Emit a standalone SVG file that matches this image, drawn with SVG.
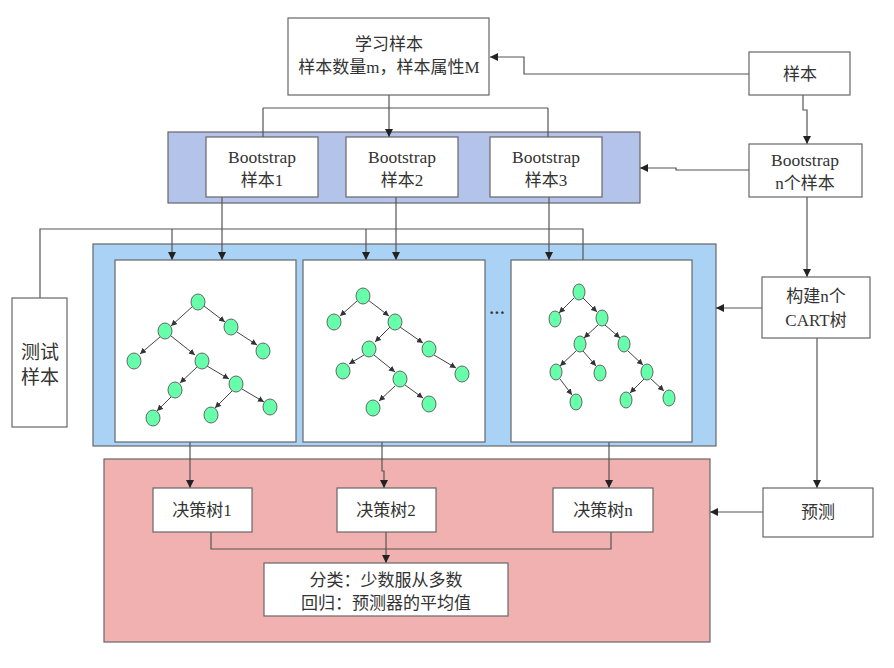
<svg xmlns="http://www.w3.org/2000/svg" width="894" height="668" viewBox="0 0 894 668">
<defs>
<marker id="ar" viewBox="0 0 10 10" refX="10" refY="5" markerWidth="8" markerHeight="8" markerUnits="userSpaceOnUse" orient="auto"><path d="M0,0L10,5L0,10z" fill="#222"/></marker>
<marker id="sa" viewBox="0 0 10 10" refX="10" refY="5" markerWidth="6" markerHeight="6" markerUnits="userSpaceOnUse" orient="auto"><path d="M0,0L10,5L0,10z" fill="#333"/></marker>
<style>
.box{fill:#fff;stroke:#666;stroke-width:1.2}
.t{font-family:"Liberation Serif","Noto Sans CJK SC",serif;font-size:16px;fill:#333;text-anchor:middle}
.b{font-size:17.5px}
.c{fill:none;stroke:#555;stroke-width:1.2}
.ca{fill:none;stroke:#555;stroke-width:1.2;marker-end:url(#ar)}
.n{fill:#66ffaa;stroke:#666;stroke-width:1}
.e{stroke:#444;stroke-width:1;marker-end:url(#sa)}
</style>
</defs>
<rect width="894" height="668" fill="#fff"/>
<g id="bands">
<rect x="168" y="132" width="472" height="71" fill="#b4c3ea" stroke="#666" stroke-width="1.2"/>
<rect x="93" y="244" width="623" height="202" fill="#aad2f5" stroke="#666" stroke-width="1.2"/>
<rect x="104" y="459" width="606" height="183" fill="#f2b1b1" stroke="#666" stroke-width="1.2"/>
</g>
<g id="connectors">
<path class="c" d="M389,95V108M263,108H548M263,108V137M548,108V137"/>
<path class="ca" d="M389,108V137"/>
<path class="ca" d="M749,74H524V57H490"/>
<path class="ca" d="M803,95V110H807V144"/>
<path class="ca" d="M749,170H676V168H640"/>
<path class="ca" d="M222,197V260"/>
<path class="ca" d="M396,197V260"/>
<path class="ca" d="M549,197V260"/>
<path class="c" d="M40,298V229H583V260"/>
<path class="ca" d="M172,229V260"/>
<path class="ca" d="M366,229V260"/>
<path class="ca" d="M807,197V277"/>
<path class="ca" d="M762,308H716"/>
<path class="ca" d="M817,338V488"/>
<path class="ca" d="M763,512H710"/>
<path class="ca" d="M190,442V488"/>
<path class="ca" d="M382,442V471H384V488"/>
<path class="ca" d="M609,442V488"/>
<path class="c" d="M211,532V549H611V532"/>
<path class="ca" d="M386,532V563"/>
</g>
<g id="n-learn"><rect class="box" x="288" y="18" width="201" height="77"/><text class="t" x="389" y="50" style="font-size:17px">学习样本</text><text class="t" x="389" y="73" style="font-size:17px">样本数量m，样本属性M</text></g>
<g id="n-sample"><rect class="box" x="749" y="52" width="101" height="43"/><text class="t" x="800" y="80" style="font-size:17px">样本</text></g>
<g id="n-bsn"><rect class="box" x="749" y="144" width="113" height="53"/><text class="t b" x="805" y="166">Bootstrap</text><text class="t" x="805" y="189" style="font-size:17px">n个样本</text></g>
<g id="n-bs1"><rect class="box" x="206" y="137" width="112" height="60"/><text class="t b" x="262" y="163">Bootstrap</text><text class="t" x="262" y="186" style="font-size:17px">样本1</text></g>
<g id="n-bs2"><rect class="box" x="346" y="137" width="112" height="60"/><text class="t b" x="402" y="163">Bootstrap</text><text class="t" x="402" y="186" style="font-size:17px">样本2</text></g>
<g id="n-bs3"><rect class="box" x="490" y="137" width="112" height="60"/><text class="t b" x="546" y="163">Bootstrap</text><text class="t" x="546" y="186" style="font-size:17px">样本3</text></g>
<g id="n-test"><rect class="box" x="12" y="298" width="55" height="129"/><text class="t" x="40" y="359" style="font-size:19px">测试</text><text class="t" x="40" y="384" style="font-size:19px">样本</text></g>
<g id="n-cart"><rect class="box" x="762" y="277" width="108" height="61"/><text class="t" x="816" y="302" style="font-size:17px">构建n个</text><text class="t" x="816" y="326" style="font-size:17px">CART树</text></g>
<g id="n-pred"><rect class="box" x="763" y="488" width="110" height="49"/><text class="t" x="818" y="518" style="font-size:17px">预测</text></g>
<g id="n-tree1">
<rect class="box" x="115" y="260" width="181" height="182"/>
<line class="e" x1="193" y1="306" x2="171" y2="326"/>
<line class="e" x1="204" y1="306" x2="225" y2="322"/>
<line class="e" x1="237" y1="332" x2="257" y2="345"/>
<line class="e" x1="160" y1="337" x2="140" y2="354"/>
<line class="e" x1="171" y1="336" x2="195" y2="355"/>
<line class="e" x1="197" y1="367" x2="180" y2="383"/>
<line class="e" x1="207" y1="366" x2="229" y2="379"/>
<line class="e" x1="171" y1="397" x2="157" y2="411"/>
<line class="e" x1="232" y1="391" x2="215" y2="408"/>
<line class="e" x1="242" y1="389" x2="264" y2="402"/>
<ellipse class="n" cx="198" cy="302" rx="7" ry="8"/>
<ellipse class="n" cx="165" cy="331" rx="7" ry="8"/>
<ellipse class="n" cx="231" cy="327" rx="7" ry="8"/>
<ellipse class="n" cx="263" cy="351" rx="7" ry="8"/>
<ellipse class="n" cx="134" cy="361" rx="7" ry="8"/>
<ellipse class="n" cx="202" cy="361" rx="7" ry="8"/>
<ellipse class="n" cx="175" cy="390" rx="7" ry="8"/>
<ellipse class="n" cx="236" cy="384" rx="7" ry="8"/>
<ellipse class="n" cx="153" cy="418" rx="7" ry="8"/>
<ellipse class="n" cx="211" cy="415" rx="7" ry="8"/>
<ellipse class="n" cx="270" cy="407" rx="7" ry="8"/>
</g>
<g id="n-tree2">
<rect class="box" x="303" y="260" width="182" height="182"/>
<line class="e" x1="357" y1="301" x2="340" y2="316"/>
<line class="e" x1="368" y1="300" x2="389" y2="316"/>
<line class="e" x1="390" y1="327" x2="375" y2="342"/>
<line class="e" x1="400" y1="327" x2="423" y2="343"/>
<line class="e" x1="364" y1="355" x2="349" y2="364"/>
<line class="e" x1="374" y1="355" x2="395" y2="372"/>
<line class="e" x1="434" y1="355" x2="456" y2="368"/>
<line class="e" x1="395" y1="386" x2="379" y2="401"/>
<line class="e" x1="405" y1="385" x2="423" y2="398"/>
<ellipse class="n" cx="363" cy="296" rx="7" ry="8"/>
<ellipse class="n" cx="334" cy="322" rx="7" ry="8"/>
<ellipse class="n" cx="395" cy="322" rx="7" ry="8"/>
<ellipse class="n" cx="369" cy="349" rx="7" ry="8"/>
<ellipse class="n" cx="429" cy="349" rx="7" ry="8"/>
<ellipse class="n" cx="343" cy="371" rx="7" ry="8"/>
<ellipse class="n" cx="400" cy="379" rx="7" ry="8"/>
<ellipse class="n" cx="462" cy="374" rx="7" ry="8"/>
<ellipse class="n" cx="373" cy="408" rx="7" ry="8"/>
<ellipse class="n" cx="429" cy="404" rx="7" ry="8"/>
</g>
<text class="t" x="497" y="318" style="font-size:16px;font-weight:bold">···</text>
<g id="n-tree3">
<rect class="box" x="511" y="260" width="181" height="182"/>
<line class="e" x1="574" y1="298" x2="559" y2="313"/>
<line class="e" x1="583" y1="298" x2="597" y2="312"/>
<line class="e" x1="598" y1="325" x2="584" y2="338"/>
<line class="e" x1="605" y1="325" x2="620" y2="338"/>
<line class="e" x1="576" y1="351" x2="560" y2="366"/>
<line class="e" x1="583" y1="351" x2="596" y2="366"/>
<line class="e" x1="628" y1="351" x2="643" y2="365"/>
<line class="e" x1="560" y1="379" x2="572" y2="395"/>
<line class="e" x1="644" y1="379" x2="630" y2="393"/>
<line class="e" x1="651" y1="379" x2="664" y2="391"/>
<ellipse class="n" cx="579" cy="292" rx="6" ry="8"/>
<ellipse class="n" cx="555" cy="319" rx="6" ry="8"/>
<ellipse class="n" cx="602" cy="318" rx="6" ry="8"/>
<ellipse class="n" cx="580" cy="344" rx="6" ry="8"/>
<ellipse class="n" cx="624" cy="344" rx="6" ry="8"/>
<ellipse class="n" cx="556" cy="372" rx="6" ry="8"/>
<ellipse class="n" cx="600" cy="373" rx="6" ry="8"/>
<ellipse class="n" cx="647" cy="372" rx="6" ry="8"/>
<ellipse class="n" cx="576" cy="402" rx="6" ry="8"/>
<ellipse class="n" cx="626" cy="400" rx="6" ry="8"/>
<ellipse class="n" cx="669" cy="398" rx="6" ry="8"/>
</g>
<g id="n-dt1"><rect class="box" x="153" y="488" width="99" height="44"/><text class="t" x="202" y="516" style="font-size:17px">决策树1</text></g>
<g id="n-dt2"><rect class="box" x="337" y="488" width="99" height="44"/><text class="t" x="386" y="516" style="font-size:17px">决策树2</text></g>
<g id="n-dtn"><rect class="box" x="553" y="488" width="100" height="44"/><text class="t" x="603" y="516" style="font-size:17px">决策树n</text></g>
<g id="n-result"><rect class="box" x="264" y="563" width="244" height="53"/><text class="t" x="386" y="586" style="font-size:17px">分类：少数服从多数</text><text class="t" x="386" y="609" style="font-size:17px">回归：预测器的平均值</text></g>
</svg>
